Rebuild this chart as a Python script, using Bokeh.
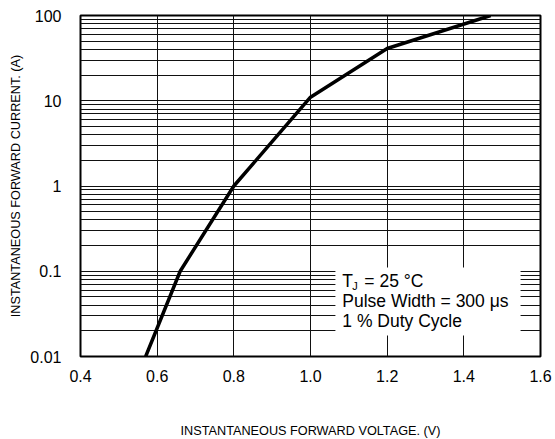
from bokeh.plotting import figure
from bokeh.models import Range1d, FixedTicker, Label
from bokeh.embed import file_html
from bokeh.resources import INLINE

# Data
voltage = [0.57, 0.66, 0.80, 1.00, 1.20, 1.47]
current = [0.01, 0.1, 1.0, 11.0, 41.0, 100.0]

x_ticks = [0.4, 0.6, 0.8, 1.0, 1.2, 1.4, 1.6]
x_tick_labels = ["0.4", "0.6", "0.8", "1.0", "1.2", "1.4", "1.6"]
y_ticks = [0.01, 0.1, 1, 10, 100]
y_tick_labels = ["0.01", "0.1", "1", "10", "100"]
y_minor = [m * d for d in [0.01, 0.1, 1, 10] for m in range(2, 10)]

note_lines = ["Pulse Width = 300 μs", "1 % Duty Cycle"]

FONT = "Liberation Sans"

p = figure(width=554, height=438, output_backend="svg", toolbar_location=None,
           y_axis_type="log", x_range=Range1d(0.4, 1.6), y_range=Range1d(0.01, 100),
           min_border_left=80, min_border_right=14, min_border_top=15, min_border_bottom=82)
p.frame_width = 460
p.frame_height = 341

p.xaxis.ticker = FixedTicker(ticks=x_ticks)
p.xaxis.major_label_overrides = {t: l for t, l in zip(x_ticks, x_tick_labels)}
p.yaxis.ticker = FixedTicker(ticks=y_ticks, minor_ticks=y_minor)
p.yaxis.major_label_overrides = {t: l for t, l in zip(y_ticks, y_tick_labels)}

for ax in (p.xaxis, p.yaxis):
    ax.axis_line_color = None
    ax.major_tick_line_color = None
    ax.minor_tick_line_color = None
    ax.major_label_text_font = FONT
    ax.major_label_text_font_size = "16px"
    ax.major_label_text_color = "black"
    ax.axis_label_text_font = FONT
    ax.axis_label_text_font_size = "12.7px"
    ax.axis_label_text_font_style = "normal"
    ax.axis_label_text_color = "black"

p.xaxis.axis_label = "INSTANTANEOUS FORWARD VOLTAGE. (V)"
p.yaxis.axis_label = "INSTANTANEOUS FORWARD CURRENT. (A)"
p.xaxis.major_label_standoff = 7
p.xaxis.axis_label_standoff = 39
p.yaxis.major_label_standoff = 13
p.yaxis.axis_label_standoff = 4

p.xgrid.grid_line_color = "#111111"
p.xgrid.grid_line_width = 1
p.ygrid.grid_line_color = "#111111"
p.ygrid.grid_line_width = 1
p.ygrid.minor_grid_line_color = "#111111"
p.ygrid.minor_grid_line_width = 1

p.outline_line_color = "black"
p.outline_line_width = 2

# white box behind the note
p.quad(left=[1.065], right=[1.548], bottom=[0.0176], top=[0.1107],
       fill_color="white", line_color=None)

p.line(voltage, current, line_color="black", line_width=3.5)

# note text
x0 = 1.083
FS = "17.5px"
p.add_layout(Label(x=x0, y=0.0764, text="T", text_font=FONT, text_font_size=FS,
                   text_baseline="middle", text_color="black"))
p.add_layout(Label(x=x0, y=0.0764, x_offset=10, y_offset=-5, text="J", text_font=FONT,
                   text_font_size="11px", text_baseline="middle", text_color="black"))
p.add_layout(Label(x=x0, y=0.0764, x_offset=22, text="= 25 °C", text_font=FONT,
                   text_font_size=FS, text_baseline="middle", text_color="black"))
for t, yv in zip(note_lines, [0.0446, 0.0260]):
    p.add_layout(Label(x=x0, y=yv, text=t, text_font=FONT, text_font_size=FS,
                       text_baseline="middle", text_color="black"))

p.background_fill_color = "white"
p.border_fill_color = "white"

open("out.html", "w").write(file_html(p, INLINE))
